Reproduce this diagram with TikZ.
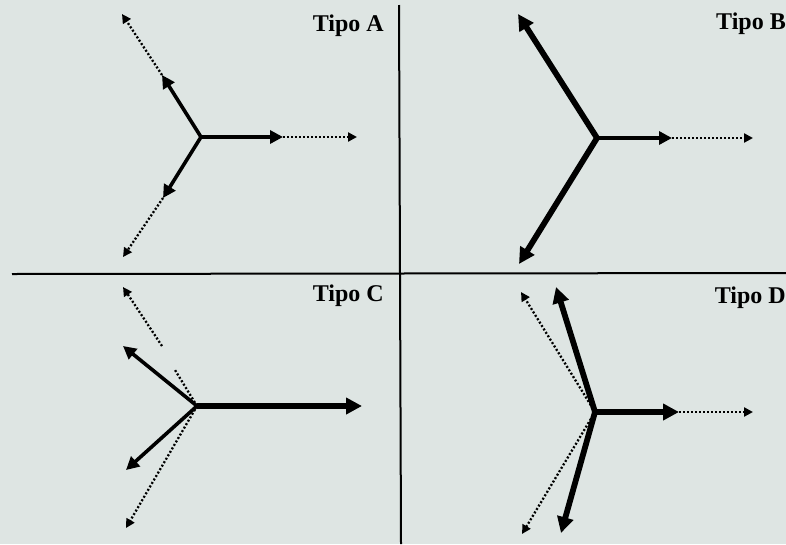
\documentclass[tikz,border=0pt]{standalone}
\usepackage{fontspec}
\setmainfont{Liberation Serif}
\usetikzlibrary{arrows.meta}
\definecolor{bg}{RGB}{222,229,227}
\begin{document}
\begin{tikzpicture}[x=1pt,y=-1pt,
  vec/.style={line width=3.6pt,-{Triangle[length=13pt,width=13pt]}},
  bigvec/.style={line width=5.8pt,-{Triangle[length=16pt,width=16pt]}},
  dotvec/.style={line width=2.3pt,dash pattern=on 2pt off 2pt,-{Triangle[length=9pt,width=9pt]}},
  lbl/.style={anchor=base east,font=\fontsize{24}{28}\selectfont\bfseries,inner sep=0pt},
  divider/.style={line width=2pt}]
\fill[bg] (0,0) rectangle (786,544);
\useasboundingbox (0,0) rectangle (786,544);
% dividers
\coordinate (vt) at (399,5);
\coordinate (vb) at (401,544);
\coordinate (hl) at (12,274);
\coordinate (hr) at (786,273);
\draw[divider] (vt) -- (vb);
\draw[divider] (hl) -- (hr);
% labels
\node[lbl] (la) at (384,31) {Tipo A};
\node[lbl] (lb) at (786,29) {Tipo B};
\node[lbl] (lc) at (384,301) {Tipo C};
\node[lbl] (ld) at (786,303) {Tipo D};
% Panel A
\coordinate (A) at (201,137);
\coordinate (Ar) at (283,137);
\coordinate (Ar2) at (357,137);
\coordinate (Au) at (162,75);
\coordinate (Au2) at (122,14);
\coordinate (Ad) at (163,198);
\coordinate (Ad2) at (123,257);
\draw[vec] (A) -- (Ar);
\draw[vec] (A) -- (Au);
\draw[vec] (A) -- (Ad);
\draw[dotvec] (Ar) -- (Ar2);
\draw[dotvec] (Au) -- (Au2);
\draw[dotvec] (Ad) -- (Ad2);
% Panel B
\coordinate (B) at (597,138);
\coordinate (Br) at (672,138);
\coordinate (Br2) at (753,138);
\coordinate (Bu) at (518,14);
\coordinate (Bd) at (519,264);
\draw[vec] (B) -- (Br);
\draw[dotvec] (Br) -- (Br2);
\draw[bigvec] (B) -- (Bu);
\draw[bigvec] (B) -- (Bd);
% Panel C
\coordinate (C) at (197,406);
\coordinate (Cr) at (362,406);
\coordinate (Cu) at (123,346);
\coordinate (Cd) at (126,470);
\coordinate (Cdu1) at (175,370);
\coordinate (Cdu2) at (162,346);
\coordinate (Cdu3) at (123,287);
\coordinate (Cdd) at (126,528);
\draw[dotvec,-] (C) -- (Cdu1);
\draw[dotvec] (Cdu2) -- (Cdu3);
\draw[dotvec] (C) -- (Cdd);
\draw[bigvec] (C) -- (Cr);
\draw[vec] (C) -- (Cu);
\draw[vec] (C) -- (Cd);
% Panel D
\coordinate (D) at (595,412);
\coordinate (Dr) at (679,412);
\coordinate (Dr2) at (753,412);
\coordinate (Du) at (556,287);
\coordinate (Dd) at (561,533);
\coordinate (Ddu) at (521,292);
\coordinate (Ddd) at (522,534);
\draw[dotvec] (D) -- (Ddu);
\draw[dotvec] (D) -- (Ddd);
\draw[bigvec] (D) -- (Dr);
\draw[dotvec] (Dr) -- (Dr2);
\draw[bigvec] (D) -- (Du);
\draw[bigvec] (D) -- (Dd);
\end{tikzpicture}
\end{document}
